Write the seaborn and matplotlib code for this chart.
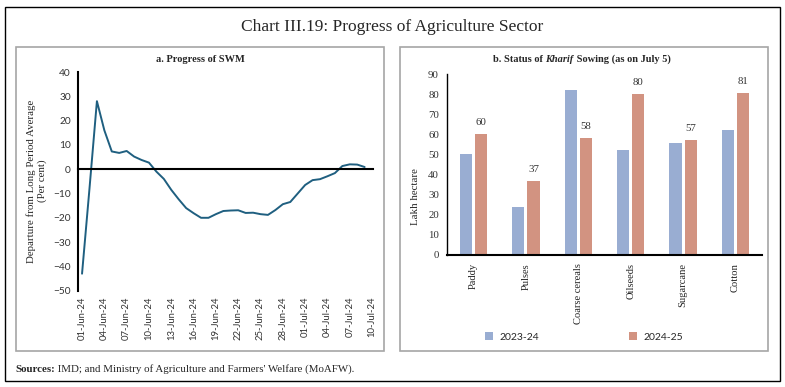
import matplotlib
matplotlib.use("Agg")
import matplotlib.pyplot as plt
import matplotlib.dates as mdates
from matplotlib.patches import Rectangle
import pandas as pd
import seaborn as sns

# panel a: departure of SWM rainfall from LPA (per cent), daily from 01-Jun-24
swm_start = "2024-06-01"
swm_departure = [-43, -8, 28, 16, 7.3, 6.7, 7.5, 5.2, 3.8, 2.7,
                 -1.0, -4.0, -8.5, -12.4, -16, -18.1, -20, -20, -18.5, -17.2,
                 -17, -16.9, -18, -17.9, -18.5, -18.8, -16.8, -14.4, -13.5, -10,
                 -6.5, -4.5, -4.1, -2.9, -1.6, 1.3, 2, 1.9, 0.9]
date_ticks = ["2024-06-01", "2024-06-04", "2024-06-07", "2024-06-10", "2024-06-13",
              "2024-06-16", "2024-06-19", "2024-06-22", "2024-06-25", "2024-06-28",
              "2024-07-01", "2024-07-04", "2024-07-07", "2024-07-10"]

# panel b: kharif sowing, lakh hectare
crops = ["Paddy", "Pulses", "Coarse cereals", "Oilseeds", "Sugarcane", "Cotton"]
sown_2023 = [50.3, 23.8, 82.0, 52.0, 55.5, 62.3]
sown_2024 = [60.0, 36.8, 58.4, 80.3, 57.0, 80.7]
seasons = ["2023-24", "2024-25"]

sns.set_style("white")
plt.rcParams['font.family'] = ['Liberation Serif', 'DejaVu Serif']
SANS = ['Lato', 'DejaVu Sans']
LINE_COL = "#1F5F80"
BAR_COLS = ["#8FAADC", "#DF8C74"]

W, H = 785, 387
fig = plt.figure(figsize=(W / 100, H / 100), dpi=100)

def fx(px):
    return px / W

def fy(py):
    return 1 - py / H

# frames
fig.add_artist(Rectangle((fx(5), fy(381)), fx(775), 374 / H, transform=fig.transFigure,
                         fill=False, edgecolor="black", lw=1.0))
for x0 in (16, 400):
    fig.add_artist(Rectangle((fx(x0), fy(351)), fx(368), 304 / H, transform=fig.transFigure,
                             fill=False, edgecolor="#A6A6A6", lw=1.2))

fig.text(fx(392), fy(27), "Chart III.19: Progress of Agriculture Sector",
         ha="center", va="center", fontsize=12.5)

# ---- panel a
swm = pd.DataFrame({"Date": pd.date_range(swm_start, periods=len(swm_departure)),
                    "Departure": swm_departure})
axa = fig.add_axes([fx(77.7), fy(290.7), fx(372.7 - 77.7), (290.7 - 72) / H])
sns.lineplot(data=swm, x="Date", y="Departure", color=LINE_COL, lw=1.4, ax=axa)
axa.set_xlim(pd.Timestamp("2024-05-31 10:00"), pd.Timestamp("2024-07-10 02:00"))
axa.set_ylim(-50, 40)
axa.set_yticks(range(-50, 41, 10))
axa.set_xlabel("")
axa.set_ylabel("")
for s in ["top", "right"]:
    axa.spines[s].set_visible(False)
axa.spines["left"].set_color("black")
axa.spines["left"].set_linewidth(1.5)
axa.spines["bottom"].set_position(("data", 0))
axa.spines["bottom"].set_color("black")
axa.spines["bottom"].set_linewidth(1.5)
tick_pos = mdates.date2num(pd.to_datetime(date_ticks))
axa.set_xticks(tick_pos)
axa.tick_params(axis="x", labelbottom=False, direction="out", length=3, color="#888888")
axa.tick_params(axis="y", direction="out", length=3, color="black", labelsize=7.3,
                labelcolor="#333333", pad=2)
for lab in axa.get_yticklabels():
    lab.set_family(SANS)
sec = axa.secondary_xaxis("bottom")
sec.set_xticks(tick_pos)
sec.xaxis.set_major_formatter(mdates.DateFormatter("%d-%b-%y"))
sec.tick_params(length=0, rotation=90, labelsize=6.8, labelcolor="#333333", pad=4)
sec.spines["bottom"].set_visible(False)
for lab in sec.get_xticklabels():
    lab.set_family(SANS)

fig.text(fx(200), fy(59), "a. Progress of SWM", ha="center", va="center",
         fontsize=7.5, fontweight="bold")
fig.text(fx(37), fy(181), "Departure from Long Period Average\n(Per cent)", rotation=90,
         ha="center", va="center", fontsize=7.8, linespacing=1.15)

# ---- panel b
sowing = pd.DataFrame({"Crop": crops * 2,
                       "Area": sown_2023 + sown_2024,
                       "Season": [seasons[0]] * len(crops) + [seasons[1]] * len(crops)})
axb = fig.add_axes([fx(447.3), fy(255), fx(761.7 - 447.3), (255 - 74) / H])
sns.barplot(data=sowing, x="Crop", y="Area", hue="Season", palette=BAR_COLS,
            width=0.58, gap=0.2, linewidth=0, ax=axb)
axb.bar_label(axb.containers[1], fmt="%.0f", padding=5, fontsize=7.8, color="#333333")
axb.set_xlim(-0.5, 5.5)
axb.set_ylim(0, 90)
axb.set_yticks(range(0, 91, 10))
axb.set_xlabel("")
axb.set_ylabel("")
for s in ["top", "right"]:
    axb.spines[s].set_visible(False)
axb.spines["left"].set_color("black")
axb.spines["left"].set_linewidth(1.0)
axb.spines["bottom"].set_color("black")
axb.spines["bottom"].set_linewidth(1.5)
axb.tick_params(axis="x", length=0, rotation=90, labelsize=7.6, pad=6)
axb.tick_params(axis="y", direction="out", length=3, color="black", labelsize=7.8,
                labelcolor="#333333", pad=3)
handles, labels = axb.get_legend_handles_labels()
axb.get_legend().remove()
fig.legend(handles, labels, loc="center", bbox_to_anchor=(fx(584), fy(337)), ncol=2,
           frameon=False, columnspacing=8.6, handlelength=0.8, handleheight=0.8,
           handletextpad=0.6, prop={"family": SANS, "size": 7.5})

t1 = fig.text(fx(493), fy(59), "b. Status of ", ha="left", va="center",
              fontsize=7.5, fontweight="bold")
t2 = axb.annotate("Kharif", xy=(1, 0), xycoords=t1, ha="left", va="bottom",
                  fontsize=7.5, fontweight="bold", style="italic", annotation_clip=False)
axb.annotate(" Sowing (as on July 5)", xy=(1, 0), xycoords=t2, ha="left", va="bottom",
             fontsize=7.5, fontweight="bold", annotation_clip=False)
fig.text(fx(416), fy(197), "Lakh hectare", rotation=90, ha="center", va="center",
         fontsize=7.8)

s1 = fig.text(fx(15), fy(370), "Sources:", ha="left", va="center", fontsize=7.8,
              fontweight="bold")
axb.annotate(" IMD; and Ministry of Agriculture and Farmers' Welfare (MoAFW).", xy=(1, 0),
             xycoords=s1, ha="left", va="bottom", fontsize=7.8, annotation_clip=False)

fig.savefig("out.png", dpi=100)
